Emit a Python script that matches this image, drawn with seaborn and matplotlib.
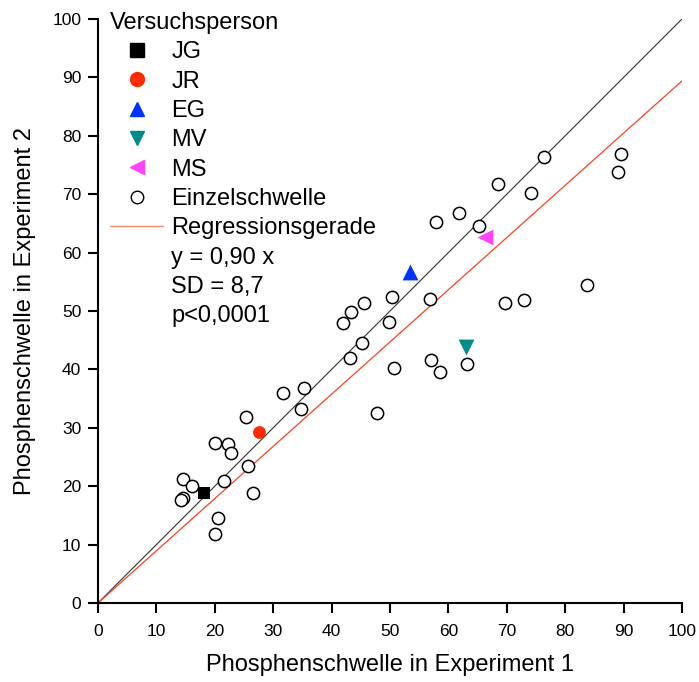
import numpy as np
import pandas as pd
import seaborn as sns
import matplotlib.pyplot as plt
from matplotlib.lines import Line2D

# individual thresholds (Einzelschwelle): experiment 1 vs experiment 2
single_x = [14.5, 16.1, 14.5, 14.2, 20.5, 20.1, 21.6, 20.1, 22.3, 22.8, 25.7, 26.5, 25.4,
            31.7, 35.2, 34.7, 47.8, 42.0, 43.4, 45.6, 50.4, 49.8, 45.2, 43.2, 56.8, 57.1,
            58.5, 50.7, 57.8, 61.8, 68.5, 65.3, 74.1, 76.4, 89.6, 89.1, 69.7, 72.9, 83.7, 63.1]
single_y = [21.3, 20.0, 17.9, 17.6, 14.5, 11.9, 20.9, 27.4, 27.2, 25.7, 23.5, 18.8, 31.8,
            35.9, 36.9, 33.3, 32.5, 47.9, 49.9, 51.3, 52.4, 48.2, 44.5, 42.0, 52.1, 41.6,
            39.6, 40.2, 65.2, 66.8, 71.7, 64.6, 70.2, 76.3, 76.9, 73.8, 51.3, 51.9, 54.5, 40.9]

# subject means
subjects = ["JG", "JR", "EG", "MV", "MS"]
subj_x = [18.2, 27.6, 53.4, 63.0, 66.3]
subj_y = [18.8, 29.3, 56.7, 43.8, 62.6]
subj_markers = ["s", "o", "^", "v", "<"]
subj_colors = ["#000000", "#ff2a00", "#0033ff", "#008b8b", "#ff44ff"]
subj_sizes = [70, 85, 130, 130, 130]

# lines: identity and regression through origin
line_x = np.array([0, 100])
reg_slope = 0.894
stats_text = ["y = 0,90 x", "SD = 8,7", "p<0,0001"]

sns.set_style("ticks")
plt.rcParams['font.family'] = ['Liberation Sans', 'DejaVu Sans']
plt.rcParams['text.color'] = 'black'
plt.rcParams['axes.labelcolor'] = 'black'
plt.rcParams['xtick.color'] = 'black'
plt.rcParams['ytick.color'] = 'black'
plt.rcParams['axes.edgecolor'] = 'black'

fig = plt.figure(figsize=(6.99, 6.82), dpi=100)
ax = fig.add_axes([98 / 699, 79 / 682, 584 / 699, 584 / 682])

sns.lineplot(x=line_x, y=line_x, color="#333333", lw=0.8, ax=ax)
sns.lineplot(x=line_x, y=reg_slope * line_x, color="#ff4020", lw=0.9, ax=ax)

df = pd.DataFrame({"x": single_x, "y": single_y})
sns.scatterplot(data=df, x="x", y="y", marker="o", s=78, facecolor="white",
                edgecolor="black", linewidth=1.1, ax=ax, zorder=3)

for name, x, y, m, c, s in zip(subjects, subj_x, subj_y, subj_markers, subj_colors, subj_sizes):
    sns.scatterplot(x=[x], y=[y], marker=m, s=s, color=c, linewidth=0, ax=ax, zorder=4)

ax.set_xlim(0, 100)
ax.set_ylim(0, 100)
ax.set_xticks(range(0, 101, 10))
ax.set_yticks(range(0, 101, 10))
ax.tick_params(direction="out", length=7, width=1.5, labelsize=12.5)
ax.tick_params(axis="x", pad=8)
ax.tick_params(axis="y", pad=5)
for sp in ["left", "bottom"]:
    ax.spines[sp].set_linewidth(1.5)
sns.despine(ax=ax)
ax.set_xlabel("Phosphenschwelle in Experiment 1", fontsize=17, labelpad=11)
ax.set_ylabel("Phosphenschwelle in Experiment 2", fontsize=17, labelpad=12)

handles = []
labels = []
for name, m, c in zip(subjects, subj_markers, subj_colors):
    handles.append(Line2D([], [], marker=m, color=c, linestyle="none", markersize=10))
    labels.append(name)
handles.append(Line2D([], [], marker="o", markerfacecolor="white", markeredgecolor="black",
                      linestyle="none", markersize=9, markeredgewidth=1.0))
labels.append("Einzelschwelle")
handles.append(Line2D([], [], color="#ff8a70", lw=1.0))
labels.append("Regressionsgerade")
for t in stats_text:
    handles.append(Line2D([], [], linestyle="none"))
    labels.append(t)

leg = ax.legend(handles, labels, title="Versuchsperson", loc="upper left",
                bbox_to_anchor=((110 - 98) / 584, (603 - 12) / 584), frameon=False,
                fontsize=17, title_fontsize=17, handlelength=2.25, handletextpad=0.35,
                labelspacing=0.31, borderpad=0, borderaxespad=0, alignment="left")

fig.savefig("out.png", dpi=100)
